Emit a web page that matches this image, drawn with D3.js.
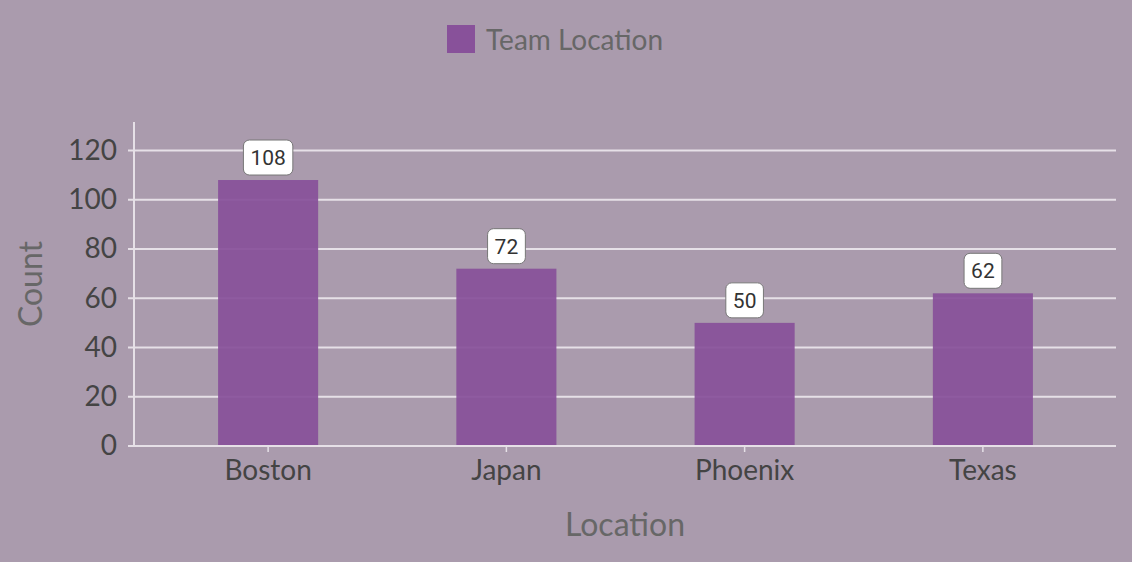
<!DOCTYPE html>
<html>
<head>
<meta charset="utf-8">
<script src="https://cdn.jsdelivr.net/npm/d3@7"></script>
<style>
  html, body { margin: 0; padding: 0; background: #aa9bad; }
  svg { display: block; }
  text { font-family: Lato, "Open Sans", sans-serif; }
</style>
</head>
<body>
<div id="chart"></div>
<script>
// Datos del gráfico
const locations = ['Boston', 'Japan', 'Phoenix', 'Texas'];
const counts = [108, 72, 50, 62];
const yTicks = [0, 20, 40, 60, 80, 100, 120];
const seriesName = 'Team Location';

// Colores fijos
const COLOR_BG = '#aa9bad',
    COLOR_BAR = '#88519a',
    COLOR_GRID = '#e6e0e7',
    COLOR_TICK = '#444444',
    COLOR_TITLE = '#676767';

const W = 1132, H = 562;
let margin = {top: 132, right: 16, bottom: 116, left: 134};

let svg = d3.select('#chart')
    .append('svg')
        .attr('width', W)
        .attr('height', H)
        .style('background', COLOR_BG);

let data = locations.map(function(d, i) { return {loc: d, value: counts[i]}; });

let x = d3.scaleBand()
    .domain(locations)
    .range([149, 1102])
    .paddingInner(0.58)
    .paddingOuter(0.29);

let y = d3.scaleLinear()
    .domain([0, 127.5])
    .range([H - margin.bottom, margin.top]);

// Rejilla
svg.append('g')
    .attr('class', 'grid')
    .selectAll('line')
    .data(yTicks)
    .enter()
    .append('line')
    .attr('x1', margin.left - 6)
    .attr('x2', W - margin.right)
    .attr('y1', function(d) { return y(d); })
    .attr('y2', function(d) { return y(d); })
    .attr('stroke', COLOR_GRID)
    .attr('stroke-width', 2);

// Eje Y
let yAxis = function(g) {
    g.call(d3.axisLeft(y).tickValues(yTicks).tickSize(0).tickPadding(17));
    g.call(function(g) { g.select('.domain').remove(); });
    g.selectAll('text')
        .attr('fill', COLOR_TICK)
        .style('font-size', '28px')
        .style('font-family', 'Lato, sans-serif');
};

svg.append('g')
    .attr('transform', 'translate(' + margin.left + ',0)')
    .call(yAxis);

svg.append('line')
    .attr('x1', margin.left).attr('x2', margin.left)
    .attr('y1', margin.top - 10).attr('y2', y(0))
    .attr('stroke', COLOR_GRID)
    .attr('stroke-width', 2);

// Barras
svg.append('g')
    .selectAll('rect')
    .data(data)
    .enter()
    .append('rect')
    .attr('x', function(d) { return x(d.loc); })
    .attr('y', function(d) { return y(d.value); })
    .attr('width', x.bandwidth())
    .attr('height', function(d) { return y(0) - y(d.value); })
    .attr('fill', COLOR_BAR)
    .attr('fill-opacity', 0.93);

// Eje X
let xAxis = function(g) {
    g.call(d3.axisBottom(x).tickSize(6).tickPadding(8));
    g.select('.domain').remove();
    g.selectAll('.tick line').attr('stroke', COLOR_GRID).attr('stroke-width', 1.5);
    g.selectAll('text')
        .attr('fill', COLOR_TICK)
        .style('font-size', '28px')
        .style('font-family', 'Lato, sans-serif');
};

svg.append('g')
    .attr('transform', 'translate(0,' + y(0) + ')')
    .call(xAxis);

svg.append('line')
    .attr('x1', margin.left - 6).attr('x2', W - margin.right)
    .attr('y1', y(0)).attr('y2', y(0))
    .attr('stroke', COLOR_GRID)
    .attr('stroke-width', 2);

// Etiquetas de valor
let labels = svg.append('g')
    .selectAll('g')
    .data(data)
    .enter()
    .append('g')
    .attr('transform', function(d) { return 'translate(' + (x(d.loc) + x.bandwidth() / 2) + ',' + (y(d.value) - 5) + ')'; });

labels.append('text')
    .attr('class', 'val')
    .attr('text-anchor', 'middle')
    .attr('y', -10)
    .attr('fill', '#333')
    .style('font-family', 'Roboto, sans-serif')
    .style('font-size', '21px')
    .text(function(d) { return d.value; });

labels.each(function() {
    let t = d3.select(this).select('text');
    let bb = t.node().getBBox();
    d3.select(this).insert('rect', 'text')
        .attr('x', bb.x - 7)
        .attr('y', -35)
        .attr('width', bb.width + 14)
        .attr('height', 35)
        .attr('rx', 6)
        .attr('fill', '#ffffff')
        .attr('stroke', '#777')
        .attr('stroke-width', 1);
});

// Títulos de ejes
svg.append('text')
    .attr('text-anchor', 'middle')
    .attr('x', (margin.left + W - margin.right) / 2)
    .attr('y', 536)
    .attr('fill', COLOR_TITLE)
    .style('font-size', '32px')
    .text('Location');

svg.append('text')
    .attr('text-anchor', 'middle')
    .attr('transform', 'translate(42,284) rotate(-90)')
    .attr('fill', COLOR_TITLE)
    .style('font-size', '32px')
    .text('Count');

// Leyenda
svg.append('rect')
    .attr('x', 447).attr('y', 25)
    .attr('width', 28).attr('height', 28)
    .attr('fill', COLOR_BAR);

svg.append('text')
    .attr('x', 486).attr('y', 50)
    .attr('fill', COLOR_TITLE)
    .style('font-size', '28px')
    .text(seriesName);
</script>
</body>
</html>
